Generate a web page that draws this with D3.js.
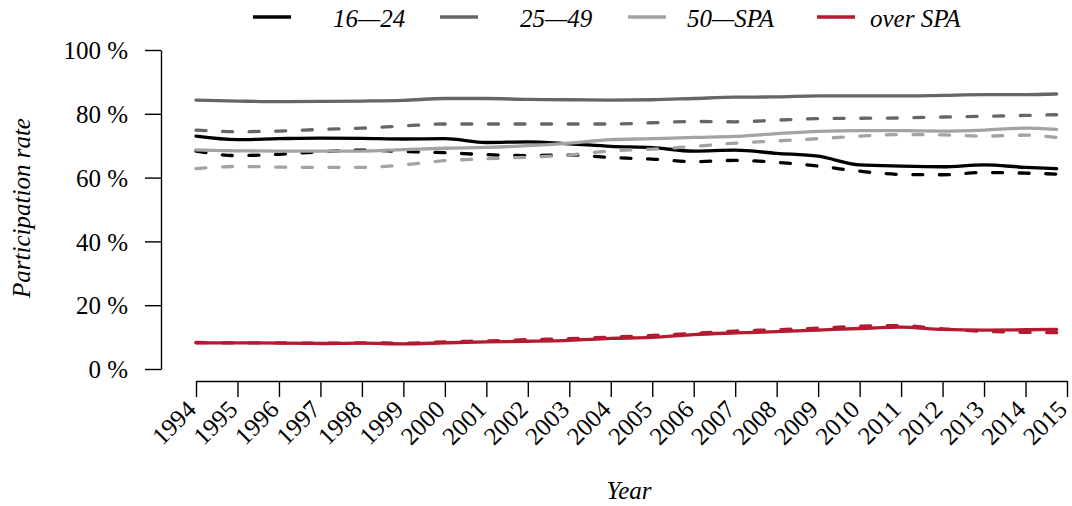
<!DOCTYPE html>
<html>
<head>
<meta charset="utf-8">
<script src="https://cdn.jsdelivr.net/npm/d3@7"></script>
<style>
  html, body { margin: 0; padding: 0; background: #fff; }
  svg { display: block; font-family: "Liberation Serif", "DejaVu Serif", serif; }
  .axis path, .axis line { stroke: #000; stroke-width: 1.4; }
  .axis text { font-family: "Liberation Serif", "DejaVu Serif", serif; font-size: 25px; fill: #000; }
</style>
</head>
<body>
<div id="chart"></div>
<script>
// Participation rate by age group, 1994-2014 (solid and dashed series per group)
var years = [1994, 1995, 1996, 1997, 1998, 1999, 2000, 2001, 2002, 2003, 2004,
  2005, 2006, 2007, 2008, 2009, 2010, 2011, 2012, 2013, 2014, 2014.75];

var age1624Solid = [73.0, 71.9, 72.2, 72.4, 72.3, 72.1, 72.2, 71.0, 71.2, 70.6, 69.8,
  69.4, 68.3, 68.6, 67.6, 66.7, 64.0, 63.6, 63.4, 64.0, 63.2, 62.8];
var age1624Dashed = [68.3, 66.9, 67.3, 68.1, 68.6, 68.2, 67.8, 67.2, 66.9, 67.1, 66.3,
  65.8, 65.0, 65.4, 64.8, 63.6, 62.0, 61.0, 60.9, 61.6, 61.4, 61.1];
var age2549Solid = [84.3, 84.0, 83.8, 83.9, 84.0, 84.2, 84.8, 84.8, 84.5, 84.4, 84.3,
  84.4, 84.8, 85.2, 85.3, 85.6, 85.6, 85.6, 85.8, 86.0, 86.0, 86.2];
var age2549Dashed = [74.9, 74.4, 74.6, 75.1, 75.5, 76.2, 76.8, 76.8, 76.8, 76.8, 76.8,
  77.2, 77.6, 77.5, 78.0, 78.5, 78.6, 78.7, 79.0, 79.2, 79.5, 79.7];
var age50SpaSolid = [68.7, 68.4, 68.3, 68.3, 68.3, 68.8, 69.2, 69.5, 70.0, 70.8, 71.9,
  72.2, 72.6, 72.9, 73.8, 74.5, 74.7, 74.7, 74.6, 74.9, 75.5, 75.1];
var age50SpaDashed = [62.8, 63.5, 63.3, 63.2, 63.2, 64.0, 65.3, 65.9, 66.4, 67.1, 68.4,
  68.9, 69.8, 70.8, 71.5, 72.2, 73.0, 73.5, 73.4, 73.0, 73.3, 72.6];
var overSpaSolid = [8.2, 8.2, 8.1, 8.0, 8.1, 7.9, 8.2, 8.5, 8.7, 9.0, 9.6,
  9.9, 10.8, 11.3, 11.7, 12.2, 12.7, 13.1, 12.4, 12.2, 12.3, 12.4];
var overSpaDashed = [8.3, 8.2, 8.2, 8.1, 8.2, 8.1, 8.5, 8.8, 9.2, 9.5, 10.0,
  10.5, 11.2, 11.9, 12.3, 12.8, 13.4, 13.6, 12.6, 11.8, 11.5, 11.4];

var groupNames = ['16—24', '25—49', '50—SPA', 'over SPA'];
var groupColors = ['#000000', '#666666', '#a3a3a3', '#b41a30'];
var yTicks = [0, 20, 40, 60, 80, 100];
var xTicks = d3.range(1994, 2016);

var series = [
  { group: 0, dashed: false, values: age1624Solid },
  { group: 0, dashed: true, values: age1624Dashed },
  { group: 1, dashed: false, values: age2549Solid },
  { group: 1, dashed: true, values: age2549Dashed },
  { group: 2, dashed: false, values: age50SpaSolid },
  { group: 2, dashed: true, values: age50SpaDashed },
  { group: 3, dashed: false, values: overSpaSolid },
  { group: 3, dashed: true, values: overSpaDashed }
];

var width = 1072, height = 506;
var svg = d3.select('#chart').append('svg').attr('width', width).attr('height', height);

var x = d3.scaleLinear().domain([1994, 2015]).range([196, 1067]);
var y = d3.scaleLinear().domain([0, 100]).range([369, 50]);

// y axis
var yAxis = svg.append('g').attr('class', 'axis').attr('transform', 'translate(161,0)')
  .call(d3.axisLeft(y).tickValues(yTicks).tickSize(16).tickSizeOuter(0).tickPadding(17)
    .tickFormat(function(d) { return d + ' %'; }));
yAxis.attr('font-family', null).attr('font-size', null);
yAxis.selectAll('text').attr('dy', '0.35em');

// x axis, labels turned 45 degrees
var xAxis = svg.append('g').attr('class', 'axis').attr('transform', 'translate(0,381)')
  .call(d3.axisBottom(x).tickValues(xTicks).tickSize(16).tickSizeOuter(0).tickFormat(d3.format('d')));
xAxis.attr('font-family', null).attr('font-size', null);
xAxis.selectAll('text')
  .attr('x', 0).attr('y', 0).attr('dy', 0)
  .attr('text-anchor', 'end')
  .attr('transform', 'translate(1,30) rotate(-45)');

// axis titles
svg.append('text').attr('x', 629).attr('y', 499).attr('text-anchor', 'middle')
  .attr('font-size', 25).attr('font-style', 'italic').text('Year');
svg.append('text').attr('transform', 'translate(30,208) rotate(-90)').attr('text-anchor', 'middle')
  .attr('font-size', 25).attr('font-style', 'italic').text('Participation rate');

// lines
var line = d3.line()
  .x(function(d, i) { return x(years[i]); })
  .y(function(d) { return y(d); })
  .curve(d3.curveMonotoneX);

svg.append('g').selectAll('path').data(series).enter().append('path')
  .attr('d', function(d) { return line(d.values); })
  .attr('fill', 'none')
  .attr('stroke', function(d) { return groupColors[d.group]; })
  .attr('stroke-width', 3.3)
  .attr('stroke-linecap', 'round')
  .attr('stroke-linejoin', 'round')
  .attr('stroke-dasharray', function(d) { return d.dashed ? '10,16.6' : null; });

// legend
var legendSegX = [253, 440, 628, 817];
var legendTextX = [333, 520, 687, 870];
var legend = svg.append('g').selectAll('g').data(groupNames).enter().append('g');
legend.append('line')
  .attr('x1', function(d, i) { return legendSegX[i]; })
  .attr('x2', function(d, i) { return legendSegX[i] + 38; })
  .attr('y1', 17).attr('y2', 17)
  .attr('stroke', function(d, i) { return groupColors[i]; })
  .attr('stroke-width', 3.5);
legend.append('text')
  .attr('x', function(d, i) { return legendTextX[i]; })
  .attr('y', 27)
  .attr('font-size', 25).attr('font-style', 'italic')
  .text(function(d) { return d; });
</script>
</body>
</html>
